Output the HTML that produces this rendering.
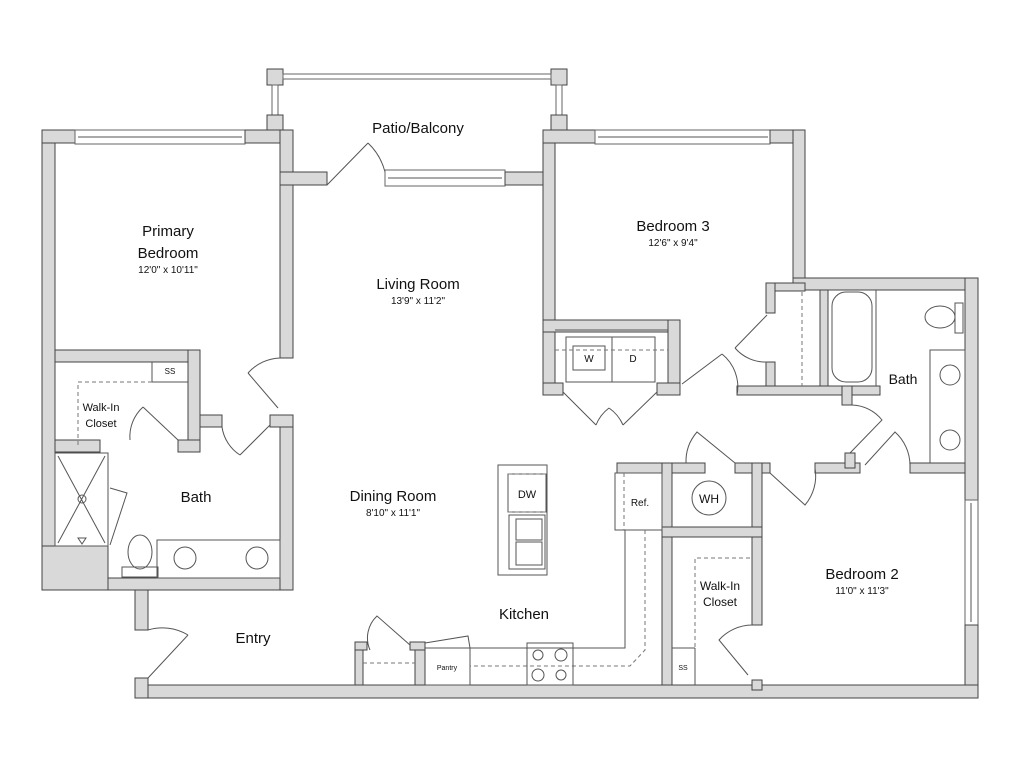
<!DOCTYPE html>
<html><head><meta charset="utf-8"><style>
html,body{margin:0;padding:0;background:#fff;}
svg{display:block}
text{font-family:"Liberation Sans","DejaVu Sans",sans-serif;fill:#111}
.w{fill:#d9d9d9;stroke:#444;stroke-width:1}
.l{fill:none;stroke:#555;stroke-width:1}
.d{fill:none;stroke:#777;stroke-width:1;stroke-dasharray:4 3}
.win{fill:#fff;stroke:#666;stroke-width:1}
</style></head><body>
<svg width="1024" height="768" viewBox="0 0 1024 768" xmlns="http://www.w3.org/2000/svg">
<rect width="1024" height="768" fill="#fff"/>
<rect class="w" x="267" y="69" width="16" height="16"/>
<rect class="w" x="551" y="69" width="16" height="16"/>
<rect class="win" x="283" y="74" width="268" height="5"/>
<rect class="win" x="272" y="85" width="6" height="30"/>
<rect class="win" x="556" y="85" width="6" height="30"/>
<rect class="w" x="267" y="115" width="16" height="16"/>
<rect class="w" x="551" y="115" width="16" height="16"/>

<rect class="w" x="42" y="130" width="13" height="460"/>
<rect class="w" x="42" y="130" width="33" height="13"/>
<rect class="win" x="75" y="130" width="170" height="14"/>
<line class="l" x1="78" y1="137" x2="242" y2="137"/>
<rect class="w" x="245" y="130" width="48" height="13"/>
<rect class="w" x="280" y="130" width="13" height="228"/>
<rect class="w" x="280" y="172" width="47" height="13"/>
<line class="l" x1="327" y1="185" x2="368" y2="143" stroke-width="2"/>
<path class="l" d="M368 143 A60 60 0 0 1 385 172"/>
<rect class="win" x="385" y="170" width="120" height="16"/>
<line class="l" x1="388" y1="178" x2="502" y2="178"/>
<rect class="w" x="505" y="172" width="50" height="13"/>
<rect class="w" x="543" y="130" width="12" height="265"/>
<rect class="w" x="543" y="130" width="52" height="13"/>
<rect class="win" x="595" y="130" width="175" height="14"/>
<line class="l" x1="598" y1="137" x2="768" y2="137"/>
<rect class="w" x="770" y="130" width="35" height="13"/>
<rect class="w" x="793" y="130" width="12" height="160"/>
<rect class="w" x="793" y="278" width="185" height="12"/>
<rect class="w" x="965" y="278" width="13" height="222"/>
<rect class="win" x="965" y="500" width="13" height="125"/>
<line class="l" x1="971" y1="503" x2="971" y2="622"/>
<rect class="w" x="965" y="625" width="13" height="73"/>
<rect class="w" x="135" y="685" width="843" height="13"/>
<rect class="w" x="135" y="590" width="13" height="40"/>
<rect class="w" x="135" y="678" width="13" height="20"/>
<line class="l" x1="148" y1="678" x2="188" y2="635" stroke-width="2"/>
<path class="l" d="M148 630 A50 50 0 0 1 188 635"/>
<rect class="w" x="42" y="578" width="251" height="12"/>
<rect class="w" x="42" y="546" width="66" height="44"/>
<rect class="w" x="280" y="415" width="13" height="175"/>
<rect class="w" x="270" y="415" width="23" height="12"/>
<line class="l" x1="278" y1="408" x2="248" y2="373" stroke-width="2"/>
<path class="l" d="M248 373 A45 45 0 0 1 280 358"/>
<rect class="w" x="55" y="350" width="145" height="12"/>
<rect class="w" x="188" y="350" width="12" height="100"/>
<rect class="w" x="55" y="440" width="45" height="12"/>
<rect class="w" x="178" y="440" width="22" height="12"/>
<rect class="w" x="200" y="415" width="22" height="12"/>
<line class="l" x1="152" y1="362" x2="152" y2="382"/>
<line class="l" x1="152" y1="382" x2="188" y2="382"/>
<text x="170" y="374" font-size="8" text-anchor="middle">SS</text>
<path class="d" d="M78 445 V382 H152"/>
<line class="l" x1="178" y1="440" x2="143" y2="407" stroke-width="2"/>
<path class="l" d="M143 407 A40 40 0 0 0 130 440"/>
<line class="l" x1="270" y1="425" x2="240" y2="455" stroke-width="2"/>
<path class="l" d="M222 427 A40 40 0 0 0 240 455"/>
<rect class="l" x="55" y="453" width="53" height="93"/>
<line class="l" x1="58" y1="456" x2="105" y2="543"/><line class="l" x1="105" y1="456" x2="58" y2="543"/>
<circle class="l" cx="82" cy="499" r="4"/>
<path class="l" d="M78 538 L86 538 L82 544 Z"/>
<path class="l" d="M110 488 L127 493 L110 545"/>
<ellipse class="l" cx="140" cy="552" rx="12" ry="17"/>
<rect class="l" x="122" y="567" width="36" height="10"/>
<rect class="l" x="157" y="540" width="123" height="38"/>
<circle class="l" cx="185" cy="558" r="11"/><circle class="l" cx="257" cy="558" r="11"/>
<rect class="w" x="543" y="320" width="137" height="12"/>
<rect class="w" x="668" y="320" width="12" height="72"/>
<rect class="w" x="543" y="383" width="20" height="12"/>
<rect class="w" x="657" y="383" width="23" height="12"/>
<line class="l" x1="555" y1="330" x2="668" y2="330"/>
<rect class="l" x="566" y="337" width="46" height="45"/>
<rect class="l" x="573" y="346" width="32" height="24"/>
<rect class="l" x="612" y="337" width="43" height="45"/>
<line class="d" x1="555" y1="350" x2="668" y2="350"/>
<text x="589" y="362" font-size="10" text-anchor="middle">W</text>
<text x="633" y="362" font-size="10" text-anchor="middle">D</text>
<path class="l" d="M563 392 L596 425 M657 392 L623 425 M596 425 A40 40 0 0 1 609 408 M623 425 A40 40 0 0 0 609 408"/>
<!-- bath hall -->
<rect class="w" x="766" y="283" width="9" height="30"/>
<rect class="w" x="766" y="362" width="9" height="30"/>
<rect class="w" x="775" y="283" width="30" height="8"/>
<rect class="w" x="737" y="386" width="143" height="9"/>
<rect class="w" x="820" y="290" width="8" height="96"/>
<rect class="w" x="842" y="386" width="10" height="19"/>
<line class="l" x1="876" y1="290" x2="876" y2="386"/>
<line class="d" x1="802" y1="292" x2="802" y2="386"/>
<line class="l" x1="767" y1="315" x2="735" y2="348" stroke-width="2"/>
<path class="l" d="M735 348 A40 40 0 0 0 767 362"/>
<line class="l" x1="682" y1="384" x2="722" y2="354" stroke-width="2"/>
<path class="l" d="M722 354 A42 42 0 0 1 737 395"/>
<rect class="l" x="832" y="292" width="40" height="90" rx="14"/>
<text x="903" y="384" font-size="14" text-anchor="middle">Bath</text>
<ellipse class="l" cx="940" cy="317" rx="15" ry="11"/>
<rect class="l" x="955" y="303" width="8" height="30"/>
<rect class="l" x="930" y="350" width="35" height="115"/>
<circle class="l" cx="950" cy="375" r="10"/><circle class="l" cx="950" cy="440" r="10"/>
<path class="l" d="M852 405 A40 40 0 0 1 882 420 L850 453"/>
<path class="l" d="M865 465 L895 432 A45 45 0 0 1 910 465"/>
<rect class="w" x="617" y="463" width="88" height="10"/>
<rect class="w" x="735" y="463" width="35" height="10"/>
<rect class="w" x="815" y="463" width="45" height="10"/>
<rect class="w" x="845" y="453" width="10" height="15"/>
<rect class="w" x="910" y="463" width="55" height="10"/>
<rect class="w" x="662" y="463" width="10" height="222"/>
<rect class="w" x="752" y="463" width="10" height="162"/>
<rect class="w" x="662" y="527" width="100" height="10"/>
<rect class="w" x="752" y="680" width="10" height="10"/>
<path class="l" d="M686 463 A45 45 0 0 1 697 432 L735 463"/>
<path class="l" d="M770 473 L805 505 A45 45 0 0 0 815 468"/>
<circle class="l" cx="709" cy="498" r="17"/>
<text x="709" y="503" font-size="12" text-anchor="middle">WH</text>
<path class="d" d="M695 675 V558 H752"/>
<line class="l" x1="672" y1="648" x2="695" y2="648"/><line class="l" x1="695" y1="648" x2="695" y2="685"/>
<text x="683" y="670" font-size="7" text-anchor="middle">SS</text>
<text x="720" y="590" font-size="12" text-anchor="middle">Walk-In</text>
<text x="720" y="606" font-size="12" text-anchor="middle">Closet</text>
<path class="l" d="M752 625 A45 45 0 0 0 719 640 L748 675"/>
<rect class="l" x="498" y="465" width="49" height="110"/>
<rect class="l" x="508" y="474" width="38" height="38"/>
<line class="d" x1="508" y1="474" x2="546" y2="474"/><line class="d" x1="508" y1="512" x2="546" y2="512"/>
<text x="527" y="498" font-size="11" text-anchor="middle">DW</text>
<rect class="l" x="509" y="515" width="36" height="54"/>
<rect class="l" x="516" y="519" width="26" height="21"/><rect class="l" x="516" y="542" width="26" height="23"/>
<rect class="l" x="615" y="473" width="47" height="57"/>
<line class="d" x1="624" y1="473" x2="624" y2="530"/>
<text x="640" y="506" font-size="10" text-anchor="middle">Ref.</text>
<path class="l" d="M625 530 V648 H470"/>
<path class="d" d="M645 530 V650 L630 666 H470"/>
<rect class="l" x="527" y="643" width="46" height="42"/>
<circle class="l" cx="538" cy="655" r="5"/><circle class="l" cx="561" cy="655" r="6"/>
<circle class="l" cx="538" cy="675" r="6"/><circle class="l" cx="561" cy="675" r="5"/>
<rect class="l" x="425" y="648" width="45" height="37"/>
<path class="l" d="M425 643 L468 636 L470 648"/>
<text x="447" y="670" font-size="7" text-anchor="middle">Pantry</text>
<rect class="w" x="355" y="642" width="8" height="43"/>
<rect class="w" x="355" y="642" width="12" height="8"/>
<rect class="w" x="415" y="642" width="10" height="43"/>
<rect class="w" x="410" y="642" width="15" height="8"/>
<line class="d" x1="363" y1="663" x2="415" y2="663"/>
<path class="l" d="M370 650 A30 30 0 0 1 377 616 L410 645"/>
<text x="168" y="236" font-size="15" text-anchor="middle">Primary</text>
<text x="168" y="258" font-size="15" text-anchor="middle">Bedroom</text>
<text x="168" y="273" font-size="10" text-anchor="middle">12'0" x 10'11"</text>
<text x="101" y="411" font-size="11" text-anchor="middle">Walk-In</text>
<text x="101" y="427" font-size="11" text-anchor="middle">Closet</text>
<text x="196" y="502" font-size="15" text-anchor="middle">Bath</text>
<text x="418" y="133" font-size="15" text-anchor="middle">Patio/Balcony</text>
<text x="418" y="289" font-size="15" text-anchor="middle">Living Room</text>
<text x="418" y="304" font-size="10" text-anchor="middle">13'9" x 11'2"</text>
<text x="673" y="231" font-size="15" text-anchor="middle">Bedroom 3</text>
<text x="673" y="246" font-size="10" text-anchor="middle">12'6" x 9'4"</text>
<text x="393" y="501" font-size="15" text-anchor="middle">Dining Room</text>
<text x="393" y="516" font-size="10" text-anchor="middle">8'10" x 11'1"</text>
<text x="524" y="619" font-size="15" text-anchor="middle">Kitchen</text>
<text x="253" y="643" font-size="15" text-anchor="middle">Entry</text>
<text x="862" y="579" font-size="15" text-anchor="middle">Bedroom 2</text>
<text x="862" y="594" font-size="10" text-anchor="middle">11'0" x 11'3"</text>
</svg>
</body></html>
